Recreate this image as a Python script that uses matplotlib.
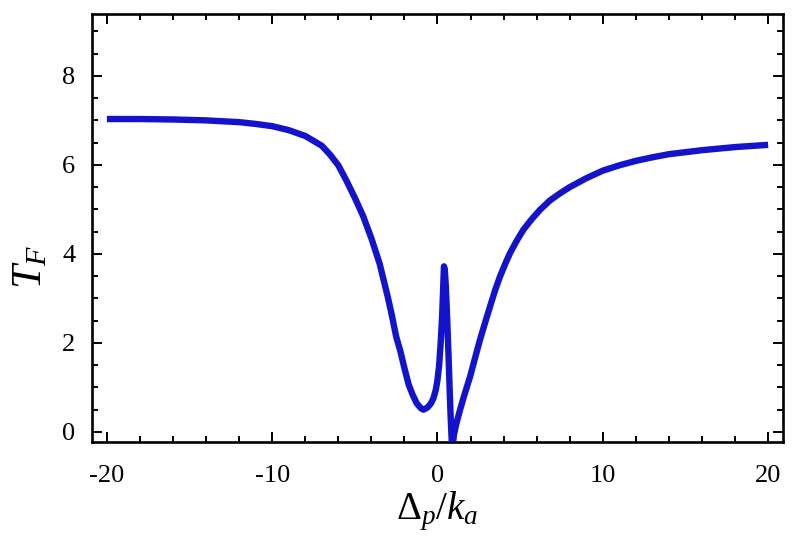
import matplotlib
matplotlib.use("Agg")
import matplotlib.pyplot as plt
from matplotlib.ticker import MultipleLocator

# Detuning values (Δp/ka) and transmission T_F
delta = [-20, -18, -16, -14, -12, -11, -10, -9, -8, -7, -6.5, -6, -5.5, -5,
         -4.5, -4, -3.5, -3, -2.75, -2.5, -2.25, -2, -1.75, -1.5, -1.25, -1,
         -0.85, -0.6, -0.4, -0.25, -0.1, 0.0, 0.1, 0.2, 0.28, 0.34, 0.39, 0.44,
         0.5, 0.58, 0.66, 0.74, 0.8, 0.86, 0.92, 1.0, 1.15, 1.36, 1.6, 1.97,
         2.3, 2.57, 2.9, 3.18, 3.5, 3.78, 4.1, 4.39, 4.8, 5.19, 5.7, 6.2, 6.8,
         7.41, 8, 9, 10, 11, 12, 13, 14, 16, 18, 20]
tf = [7.03, 7.03, 7.02, 7.00, 6.96, 6.92, 6.87, 6.78, 6.65, 6.43, 6.23, 5.99,
      5.64, 5.26, 4.85, 4.35, 3.78, 3.02, 2.6, 2.14, 1.82, 1.43, 1.07, 0.83,
      0.64, 0.53, 0.50, 0.55, 0.64, 0.75, 0.95, 1.17, 1.5, 2.05, 2.6, 3.2,
      3.72, 3.65, 3.3, 2.6, 1.8, 0.9, 0.3, -0.2, -0.3, -0.05, 0.2, 0.49, 0.8,
      1.24, 1.7, 2.07, 2.48, 2.82, 3.2, 3.49, 3.78, 4.02, 4.3, 4.54, 4.78,
      4.99, 5.2, 5.36, 5.5, 5.7, 5.87, 5.99, 6.09, 6.17, 6.24, 6.33, 6.4, 6.45]

xticks = [-20, -10, 0, 10, 20]
yticks = [0, 2, 4, 6, 8]

plt.rcParams['mathtext.fontset'] = 'custom'
plt.rcParams['mathtext.rm'] = 'Liberation Serif'
plt.rcParams['mathtext.it'] = 'Liberation Serif:italic'
plt.rcParams['axes.unicode_minus'] = False

fig = plt.figure(figsize=(8, 5.4), dpi=100)
ax = fig.add_axes([92/800, 1 - 441.7/540, (783-92)/800, (441.7-14)/540])

ax.plot(delta, tf, color='#1313cc', lw=4.6, solid_joinstyle='round',
        solid_capstyle='butt', zorder=3)

ax.set_xlim(-20.9, 20.9)
ax.set_ylim(-0.22, 9.39)
ax.set_xticks(xticks)
ax.set_yticks(yticks)
ax.set_xticklabels([str(v) for v in xticks])
ax.set_yticklabels([str(v) for v in yticks])
ax.xaxis.set_minor_locator(MultipleLocator(2))
ax.yaxis.set_minor_locator(MultipleLocator(0.5))

for s in ax.spines.values():
    s.set_linewidth(1.9)
ax.tick_params(which='both', direction='in', top=True, right=True, width=1.4)
ax.tick_params(which='major', length=7.5)
ax.tick_params(which='minor', length=4)
ax.tick_params(axis='x', which='major', pad=17)
ax.tick_params(axis='y', which='major', pad=12)
for lab in ax.get_xticklabels() + ax.get_yticklabels():
    lab.set_fontfamily('Liberation Serif')
    lab.set_fontsize(19)

ax.set_xlabel(r'$\Delta_p/k_a$', fontsize=28)
ax.set_ylabel(r'$T_F$', fontsize=31, rotation=90)
ax.xaxis.set_label_coords(0.499, -0.112)
ax.yaxis.set_label_coords(-0.061, 0.408)

fig.savefig('out.png', dpi=100)
